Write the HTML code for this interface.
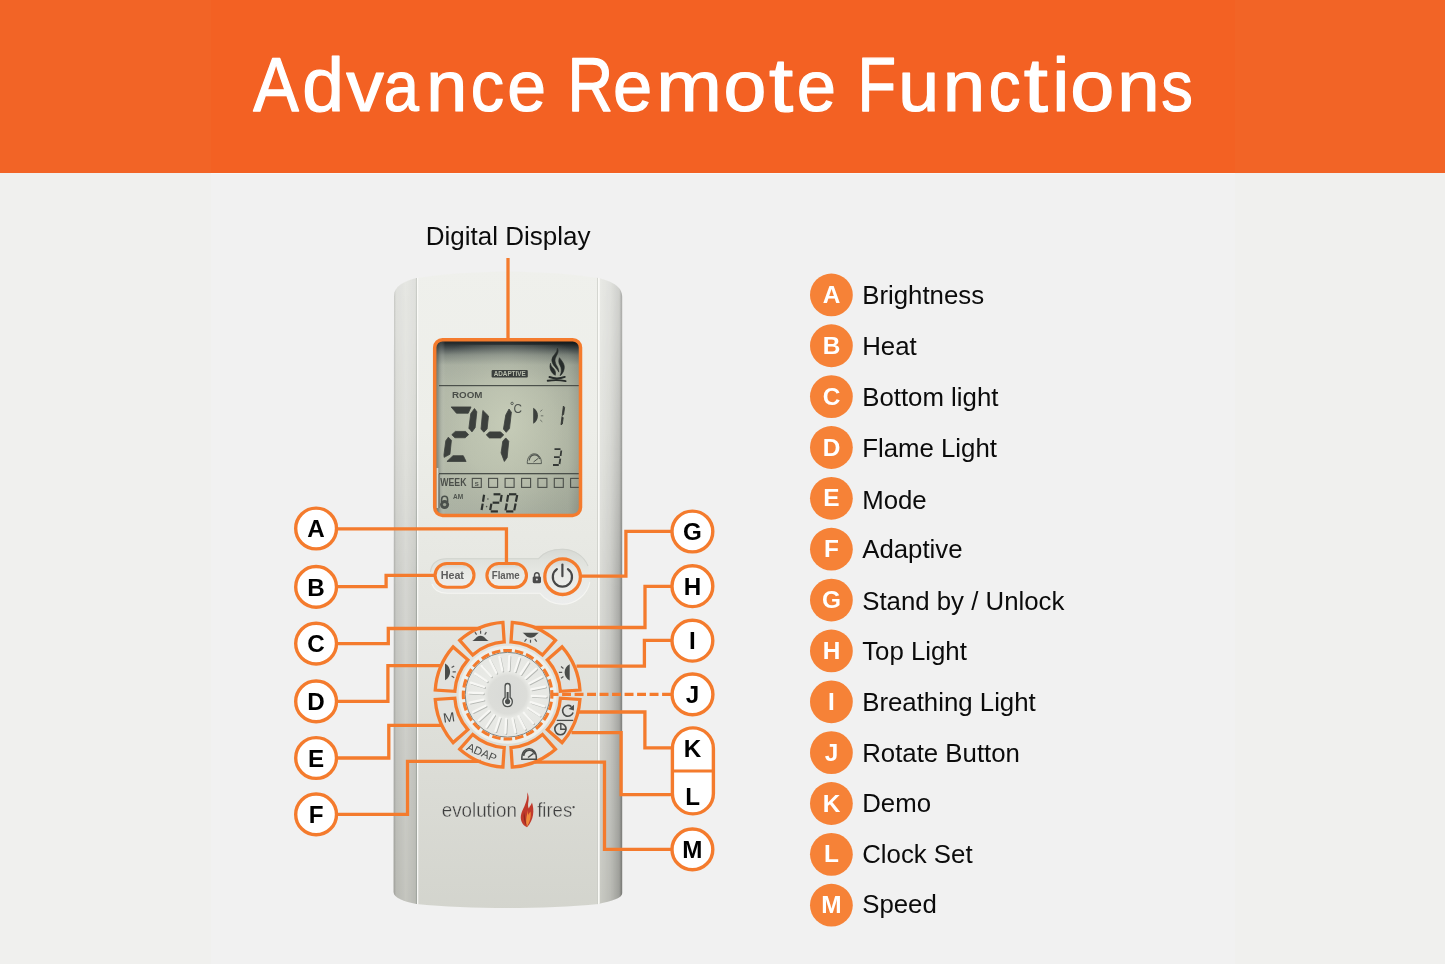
<!DOCTYPE html>
<html><head><meta charset="utf-8"><title>Advance Remote Functions</title>
<style>
html,body{margin:0;padding:0;}
body{width:1445px;height:964px;overflow:hidden;background:#f1f1f1;font-family:"Liberation Sans",sans-serif;position:relative;}
.hdr{position:absolute;left:0;top:0;width:1445px;height:173px;background:#F36123;border-bottom:1.4px solid #f5f8f8;}
.sideL{position:absolute;left:0;top:0;width:211px;height:964px;background:linear-gradient(#F26426 0,#F26426 172.6px,#f0f0ee 172.6px);}
.sideR{position:absolute;left:1235px;top:0;width:210px;height:964px;background:linear-gradient(#F26426 0,#F26426 172.6px,#f0f0ee 172.6px);}
svg{position:absolute;left:0;top:0;will-change:transform;}
svg text{font-family:"Liberation Sans",sans-serif;}
</style></head><body>
<div class="hdr"></div><div class="sideL"></div><div class="sideR"></div>
<svg width="1445" height="964" viewBox="0 0 1445 964">
<g font-size="79" fill="#fff" stroke="#fff" stroke-width="1.3" stroke-linejoin="round">
<text transform="translate(253.27 110.9) scale(0.865 0.972)">A</text>
<text transform="translate(302.24 110.9) scale(0.951 0.96)">d</text>
<text transform="translate(346.14 110.9) scale(0.952 0.915)">v</text>
<text transform="translate(383.83 110.9) scale(0.800 0.915)">a</text>
<text transform="translate(426.31 110.9) scale(0.933 0.915)">n</text>
<text transform="translate(470.87 110.9) scale(0.843 0.915)">c</text>
<text transform="translate(507.24 110.9) scale(0.882 0.915)">e</text>
<text transform="translate(567.60 110.9) scale(0.800 0.972)">R</text>
<text transform="translate(613.00 110.9) scale(0.893 0.915)">e</text>
<text transform="translate(656.17 110.9) scale(0.997 0.915)">m</text>
<text transform="translate(723.46 110.9) scale(0.976 0.915)">o</text>
<text transform="translate(769.04 110.9) scale(1.100 0.96)">t</text>
<text transform="translate(796.80 110.9) scale(0.893 0.915)">e</text>
<text transform="translate(857.42 110.9) scale(0.800 0.972)">F</text>
<text transform="translate(898.13 110.9) scale(0.930 0.915)">u</text>
<text transform="translate(942.74 110.9) scale(0.965 0.915)">n</text>
<text transform="translate(988.70 110.9) scale(0.804 0.915)">c</text>
<text transform="translate(1023.84 110.9) scale(1.100 0.96)">t</text>
<text transform="translate(1052.22 110.9) scale(0.979 0.96)">i</text>
<text transform="translate(1070.27 110.9) scale(1.003 0.915)">o</text>
<text transform="translate(1117.14 110.9) scale(0.965 0.915)">n</text>
<text transform="translate(1161.21 110.9) scale(0.800 0.915)">s</text>
</g>
<defs>
<linearGradient id="gBody" x1="0" y1="0" x2="0" y2="1">
 <stop offset="0" stop-color="#eff0ec"/><stop offset="0.25" stop-color="#edeee9"/><stop offset="0.55" stop-color="#e4e5e0"/><stop offset="1" stop-color="#d3d4cd"/>
</linearGradient>
<linearGradient id="gSideL" x1="0" y1="0" x2="1" y2="0">
 <stop offset="0" stop-color="#000" stop-opacity="0.20"/><stop offset="0.12" stop-color="#000" stop-opacity="0.13"/><stop offset="0.55" stop-color="#000" stop-opacity="0.07"/><stop offset="1" stop-color="#000" stop-opacity="0.13"/>
</linearGradient>
<linearGradient id="gSideR" x1="0" y1="0" x2="1" y2="0">
 <stop offset="0" stop-color="#000" stop-opacity="0.04"/><stop offset="0.5" stop-color="#000" stop-opacity="0.12"/><stop offset="0.85" stop-color="#000" stop-opacity="0.25"/><stop offset="1" stop-color="#000" stop-opacity="0.36"/>
</linearGradient>
<linearGradient id="gLcd" x1="0" y1="0" x2="0" y2="1">
 <stop offset="0" stop-color="#0d1113"/><stop offset="0.03" stop-color="#1b2123"/><stop offset="0.055" stop-color="#3d4546"/><stop offset="0.095" stop-color="#7a827a"/><stop offset="0.15" stop-color="#a4ab9c"/><stop offset="0.3" stop-color="#b1b7a6"/><stop offset="0.7" stop-color="#b2b8a6"/><stop offset="1" stop-color="#a5ac9d"/>
</linearGradient>
<linearGradient id="gLcdX" x1="0" y1="0" x2="1" y2="0">
 <stop offset="0" stop-color="#2a3032" stop-opacity="0.75"/><stop offset="0.035" stop-color="#555d59" stop-opacity="0.45"/><stop offset="0.08" stop-color="#fff" stop-opacity="0.05"/><stop offset="0.5" stop-color="#fff" stop-opacity="0.06"/><stop offset="0.9" stop-color="#000" stop-opacity="0.04"/><stop offset="1" stop-color="#000" stop-opacity="0.18"/>
</linearGradient>
<radialGradient id="gKnob" cx="0.5" cy="0.5" r="0.5">
 <stop offset="0" stop-color="#d9dad7"/><stop offset="0.45" stop-color="#dcddd9"/><stop offset="0.55" stop-color="#e9eae6"/><stop offset="1" stop-color="#e6e7e3"/>
</radialGradient>
<linearGradient id="gEdgeL" x1="0" y1="0" x2="1" y2="0"><stop offset="0" stop-color="#000" stop-opacity="0.12"/><stop offset="1" stop-color="#000" stop-opacity="0"/></linearGradient>
<linearGradient id="gEdgeR" x1="0" y1="0" x2="1" y2="0"><stop offset="0" stop-color="#000" stop-opacity="0"/><stop offset="1" stop-color="#000" stop-opacity="0.16"/></linearGradient>
<linearGradient id="gRecess" x1="0" y1="0" x2="0" y2="1"><stop offset="0" stop-color="#d6d8d3"/><stop offset="0.22" stop-color="#e0e2dd"/><stop offset="0.5" stop-color="#e8e9e5"/><stop offset="1" stop-color="#eceded"/></linearGradient>
<linearGradient id="gBtn" x1="0" y1="0" x2="0" y2="1"><stop offset="0" stop-color="#cfd1cd"/><stop offset="0.25" stop-color="#e6e7e3"/><stop offset="1" stop-color="#efefec"/></linearGradient>
<clipPath id="cBody"><path id="pBody" d="M394 296 C394 286 404 281 416.5 278 C470 269.5 545 269.5 598.5 278 C611 281 622.3 286 622.3 297 L622.3 893 C622.3 898 612 901 598.5 904 C545 909.3 470 909.3 416.5 904 C404 901.5 393.6 898 393.6 892 Z"/></clipPath>
<linearGradient id="gFade" x1="0" y1="0" x2="0" y2="1">
 <stop offset="0" stop-color="#fff" stop-opacity="0.5"/><stop offset="0.1" stop-color="#fff" stop-opacity="0.55"/><stop offset="0.35" stop-color="#fff" stop-opacity="0.8"/><stop offset="0.5" stop-color="#fff" stop-opacity="1"/><stop offset="1" stop-color="#fff" stop-opacity="1"/>
</linearGradient>
<mask id="mFade" maskUnits="userSpaceOnUse" x="380" y="260" width="260" height="660"><rect x="380" y="265" width="260" height="650" fill="url(#gFade)"/></mask>
<radialGradient id="gGlare" cx="0.52" cy="0.5" r="0.62" fx="0.5" fy="0.45">
 <stop offset="0" stop-color="#c9cfba" stop-opacity="0.85"/><stop offset="0.5" stop-color="#c0c6b2" stop-opacity="0.5"/><stop offset="1" stop-color="#a3aa9b" stop-opacity="0"/>
</radialGradient>
<clipPath id="cLcd"><rect x="434.7" y="339.8" width="145.8" height="175.6" rx="7.5"/></clipPath>
</defs>
<g clip-path="url(#cBody)">
<rect x="390" y="265" width="240" height="650" fill="url(#gBody)"/>
<g mask="url(#mFade)">
<rect x="393" y="265" width="23.5" height="650" fill="url(#gSideL)"/>
<rect x="598.5" y="265" width="24" height="650" fill="url(#gSideR)"/>
<rect x="415.9" y="265" width="1.1" height="650" fill="#999d97" opacity="0.8"/>
</g>
<rect x="393" y="265" width="3.2" height="650" fill="url(#gEdgeL)"/>
<rect x="619.2" y="265" width="3.3" height="650" fill="url(#gEdgeR)"/>
<rect x="417" y="265" width="1.3" height="650" fill="#fbfbf8" opacity="0.9"/>
<rect x="598" y="265" width="1.7" height="650" fill="#fbfbf8" opacity="0.95"/>
<rect x="597" y="265" width="1" height="650" fill="#c9cbc5" opacity="0.7"/>
</g>
<g><path d="M447 558.3 H538 C544 551.5 553 548.8 562.6 548.8 C578 548.8 590.4 561.3 590.4 576.7 C590.4 592 578 604.6 562.6 604.6 C553 604.6 545 600 540 593.5 H447 C424 593.5 424 558.3 447 558.3 Z" fill="url(#gRecess)"/>
<path d="M430.5 572 C431.5 563 438 558.8 447 558.8 H538.4 C544 552 553 549.3 562.6 549.3 C574 549.3 584 556 588 566" fill="none" stroke="#cfd1cc" stroke-width="1.1" opacity="0.9"/>
<path d="M432 584 C434 590.5 440 593.2 447 593.2 H540 C545 600 553 604.2 562.6 604.2 C576 604.2 587.5 594.5 589.8 582" fill="none" stroke="#f6f6f3" stroke-width="1.1" opacity="0.9"/></g>
<g clip-path="url(#cLcd)">
<rect x="433" y="338" width="150" height="180" fill="url(#gLcd)"/>
<rect x="433" y="338" width="150" height="180" fill="url(#gLcdX)"/>
<rect x="433" y="345" width="150" height="173" fill="url(#gGlare)"/>
<rect x="439" y="385" width="142" height="1.2" fill="#4b504b"/>
<rect x="439" y="473" width="142" height="1.3" fill="#4b504b"/>
<rect x="491.6" y="370" width="36.2" height="7.4" rx="1" fill="#3b403d"/>
<text x="509.7" y="376.3" font-size="6.6" font-weight="700" fill="#b9bfae" text-anchor="middle" textLength="32" lengthAdjust="spacingAndGlyphs">ADAPTIVE</text>
<text x="452" y="398.3" font-size="9.8" font-weight="700" fill="#4a4e49" textLength="30.5" lengthAdjust="spacingAndGlyphs">ROOM</text>
<polygon points="451.14,406.95 471.03,406.95 468.23,413.21 456.46,413.21" fill="#3c403d" stroke="#3c403d" stroke-width="0.8" stroke-linejoin="round"/>
<polygon points="474.48,408.54 476.82,411.81 475.14,427.68 471.96,431.88 468.88,428.15 470.75,413.67" fill="#3c403d" stroke="#3c403d" stroke-width="0.8" stroke-linejoin="round"/>
<polygon points="451.79,434.68 455.34,431.41 465.61,431.41 468.6,434.68 465.15,437.76 454.88,437.76" fill="#3c403d" stroke="#3c403d" stroke-width="0.8" stroke-linejoin="round"/>
<polygon points="448.34,437.2 451.42,440.28 449.93,454.29 444.14,457.37 443.95,454.76 445.82,440.75" fill="#3c403d" stroke="#3c403d" stroke-width="0.8" stroke-linejoin="round"/>
<polygon points="446.94,461.48 453.01,455.69 463.28,455.69 466.08,461.48" fill="#3c403d" stroke="#3c403d" stroke-width="0.8" stroke-linejoin="round"/>
<polygon points="482.89,410.41 488.49,416.01 487.09,429.08 483.82,432.16 481.02,429.08 482.42,413.67" fill="#3c403d" stroke="#3c403d" stroke-width="0.8" stroke-linejoin="round"/>
<polygon points="509.03,409.01 511.37,412.27 509.5,428.61 506.23,432.35 503.43,429.08 505.76,415.07" fill="#3c403d" stroke="#3c403d" stroke-width="0.8" stroke-linejoin="round"/>
<polygon points="486.34,434.96 489.42,431.88 500.63,431.88 503.71,434.96 500.63,437.95 489.42,437.95" fill="#3c403d" stroke="#3c403d" stroke-width="0.8" stroke-linejoin="round"/>
<polygon points="505.76,437.95 508.75,441.22 507.16,457.56 504.36,461.48 501.09,452.89 502.77,441.22" fill="#3c403d" stroke="#3c403d" stroke-width="0.8" stroke-linejoin="round"/>
<circle cx="512.1" cy="403.4" r="1.2" fill="none" stroke="#4d524d" stroke-width="0.9"/>
<text x="513.6" y="413" font-size="13.5" fill="#4d524d" textLength="8.5" lengthAdjust="spacingAndGlyphs">C</text>
<path d="M533.2 407.8 C539.5 411 539.5 420.5 533.2 423.8 Z" fill="#3c403d"/>
<path d="M540.2 411.5 L542.3 409.8 M540.8 415.8 L543.3 415.8 M540.2 420 L542.3 421.8" stroke="#5a5f59" stroke-width="0.8" fill="none"/>
<path d="M563.4 406 L564.6 407.5 L563.6 414.5 L562.2 415.5 Z M562 416.6 L563.2 417.8 L562.3 424 L561 424.8 Z" fill="#353936" stroke="#353936" stroke-width="0.9" stroke-linejoin="round"/>
<path d="M527.3 463.6 C526.6 450.5 542 450.5 541.4 463.6 Z" fill="none" stroke="#4d524d" stroke-width="0.9"/>
<path d="M529.2 460.5 C530 453.5 538 453 539.6 459" fill="none" stroke="#4d524d" stroke-width="1.1"/>
<path d="M533.5 462 L538.3 458.3" stroke="#4d524d" stroke-width="1"/>
<path d="M554.5 449.2 H560.5 M561.3 450.5 L560.6 456 M554 457.2 H559.8 M560.3 458.6 L559.5 464 M553 465 H558.8" stroke="#353936" stroke-width="1.8" fill="none"/>
<text x="440.3" y="486.3" font-size="10" font-weight="700" fill="#4a4e49" textLength="26.2" lengthAdjust="spacingAndGlyphs">WEEK</text>
<rect x="472.3" y="478.4" width="9" height="9" fill="none" stroke="#4a4e49" stroke-width="1.1"/>
<rect x="488.6" y="478.4" width="9" height="9" fill="none" stroke="#4a4e49" stroke-width="1.1"/>
<rect x="505.1" y="478.4" width="9" height="9" fill="none" stroke="#4a4e49" stroke-width="1.1"/>
<rect x="521.6" y="478.4" width="9" height="9" fill="none" stroke="#4a4e49" stroke-width="1.1"/>
<rect x="537.9" y="478.4" width="9" height="9" fill="none" stroke="#4a4e49" stroke-width="1.1"/>
<rect x="554.3000000000001" y="478.4" width="9" height="9" fill="none" stroke="#4a4e49" stroke-width="1.1"/>
<rect x="570.6" y="478.4" width="9" height="9" fill="none" stroke="#4a4e49" stroke-width="1.1"/>
<text x="476.8" y="485.6" font-size="6" font-weight="700" fill="#4a4e49" text-anchor="middle">S</text>
<text x="453" y="499.4" font-size="7.8" font-weight="700" fill="#50554f" textLength="10.2" lengthAdjust="spacingAndGlyphs">AM</text>
<rect x="436.4" y="468" width="1.9" height="40" fill="#eef2ee" opacity="0.75"/>
<rect x="438.3" y="474" width="1.6" height="34" fill="#4e5553" opacity="0.45"/>
<path d="M441.6 502 V499.5 C441.6 495.2 447.6 495.2 447.6 499.5 V502" fill="none" stroke="#4a504b" stroke-width="1.5"/>
<circle cx="444.6" cy="504.6" r="4.5" fill="#4a504b"/>
<circle cx="444.6" cy="504.6" r="1.7" fill="#9aa193"/>
<path d="M484.08 494.78 L482.96 501.76" stroke="#2e322f" stroke-width="2.2" fill="none" stroke-linecap="butt"/>
<path d="M482.71 503.63 L481.59 509.98" stroke="#2e322f" stroke-width="2.2" fill="none" stroke-linecap="butt"/>
<circle cx="487.9" cy="499" r="0.8" fill="#4a4e49"/><circle cx="486.6" cy="506.6" r="0.8" fill="#4a4e49"/>
<path d="M493.55 494.28 L500.4 494.28" stroke="#2e322f" stroke-width="2.2" fill="none" stroke-linecap="butt"/>
<path d="M501.65 494.91 L500.53 501.76" stroke="#2e322f" stroke-width="2.2" fill="none" stroke-linecap="butt"/>
<path d="M492.62 502.69 L499.28 502.69" stroke="#2e322f" stroke-width="2.2" fill="none" stroke-linecap="butt"/>
<path d="M491.37 503.63 L490.19 510.17" stroke="#2e322f" stroke-width="2.2" fill="none" stroke-linecap="butt"/>
<path d="M490.75 511.42 L497.91 511.42" stroke="#2e322f" stroke-width="2.2" fill="none" stroke-linecap="butt"/>
<path d="M509 494.28 L516.29 494.28" stroke="#2e322f" stroke-width="2.2" fill="none" stroke-linecap="butt"/>
<path d="M517.23 494.91 L515.86 501.76" stroke="#2e322f" stroke-width="2.2" fill="none" stroke-linecap="butt"/>
<path d="M515.61 503.5 L514.24 510.36" stroke="#2e322f" stroke-width="2.2" fill="none" stroke-linecap="butt"/>
<path d="M506.14 511.42 L513.36 511.42" stroke="#2e322f" stroke-width="2.2" fill="none" stroke-linecap="butt"/>
<path d="M506.76 503.5 L505.51 510.36" stroke="#2e322f" stroke-width="2.2" fill="none" stroke-linecap="butt"/>
<path d="M508.19 494.91 L507.01 501.76" stroke="#2e322f" stroke-width="2.2" fill="none" stroke-linecap="butt"/>
<path d="M 557.43 348.23 C 560.17 353.45 553.7 356.94 555.19 361.92 C 556.04 365.9 559.17 367.9 558.82 372.13 C 556.93 367.9 551.85 365.41 551.85 359.93 C 551.85 355.45 557.53 353.45 557.43 348.23 Z" fill="#272c2a" stroke="#272c2a" stroke-width="0.6" stroke-linejoin="round"/>
<path d="M 550.56 363.17 C 548.72 367.9 551.21 373.13 555.34 375.27 C 556.04 371.88 554.94 369.89 553.05 367.9 C 551.35 366.4 550.71 364.91 550.56 363.17 Z" fill="#272c2a" stroke="#272c2a" stroke-width="0.6" stroke-linejoin="round"/>
<path d="M 559.42 357.69 C 561.91 360.92 565.15 364.41 564.15 368.89 C 563.61 371.88 562.01 374.47 560.02 375.67 C 561.91 371.88 561.51 367.9 560.02 365.41 C 558.53 362.92 558.43 360.43 559.42 357.69 Z" fill="#272c2a" stroke="#272c2a" stroke-width="0.6" stroke-linejoin="round"/>
<path d="M 549.46 377.01 Q 557.18 379.85 564.8 376.86 M 547.72 380.75 Q 557.18 379.35 565.65 381.09" stroke="#272c2a" stroke-width="1.9" fill="none" stroke-linecap="round"/>
</g>
<rect x="434.7" y="339.8" width="145.8" height="175.6" rx="7.8" fill="none" stroke="#F47B2D" stroke-width="3.5"/>
<rect x="435.1" y="563.5" width="38.9" height="23.7" rx="11.85" fill="url(#gBtn)" stroke="#F47B2D" stroke-width="3.1"/>
<rect x="486.9" y="563.5" width="39.6" height="23.9" rx="11.95" fill="url(#gBtn)" stroke="#F47B2D" stroke-width="3.1"/>
<text x="452.3" y="578.9" font-size="10.6" font-weight="700" fill="#5c5c5c" text-anchor="middle" textLength="23.3" lengthAdjust="spacingAndGlyphs">Heat</text>
<text x="505.7" y="579.1" font-size="10.6" font-weight="700" fill="#5c5c5c" text-anchor="middle" textLength="27.9" lengthAdjust="spacingAndGlyphs">Flame</text>
<path d="M534.5 577 V575.6 C534.5 571.8 539.2 571.8 539.2 575.6 V577" fill="none" stroke="#4b4b4b" stroke-width="1.4"/>
<rect x="532.7" y="576.4" width="8.3" height="6.8" rx="1.4" fill="#4b4b4b"/>
<circle cx="536.85" cy="579.6" r="1" fill="#ddd"/>
<circle cx="562.6" cy="576.7" r="17.8" fill="url(#gBtn)" stroke="#F47B2D" stroke-width="3.3"/>
<path d="M556.9 569.2 A9.6 9.6 0 1 0 567.9 569.2" fill="none" stroke="#484848" stroke-width="2.2" stroke-linecap="round"/>
<path d="M562.4 564.6 V576.2" stroke="#484848" stroke-width="2.2" stroke-linecap="round"/>
<circle cx="507.6" cy="694.75" r="49" fill="#eeefeb"/>
<path d="M512.28 622.4 A72.5 72.5 0 0 1 555.45 640.28 L542.51 655.01 A52.9 52.9 0 0 0 511.01 641.96 Z" fill="#e1e2de" stroke="#F47B2D" stroke-width="3.3" stroke-linejoin="miter"/>
<path d="M562.07 646.9 A72.5 72.5 0 0 1 579.95 690.07 L560.39 691.34 A52.9 52.9 0 0 0 547.34 659.84 Z" fill="#e1e2de" stroke="#F47B2D" stroke-width="3.3" stroke-linejoin="miter"/>
<path d="M579.95 699.43 A72.5 72.5 0 0 1 562.07 742.6 L547.34 729.66 A52.9 52.9 0 0 0 560.39 698.16 Z" fill="#e1e2de" stroke="#F47B2D" stroke-width="3.3" stroke-linejoin="miter"/>
<path d="M555.45 749.22 A72.5 72.5 0 0 1 512.28 767.1 L511.01 747.54 A52.9 52.9 0 0 0 542.51 734.49 Z" fill="#e1e2de" stroke="#F47B2D" stroke-width="3.3" stroke-linejoin="miter"/>
<path d="M502.92 767.1 A72.5 72.5 0 0 1 459.75 749.22 L472.69 734.49 A52.9 52.9 0 0 0 504.19 747.54 Z" fill="#e1e2de" stroke="#F47B2D" stroke-width="3.3" stroke-linejoin="miter"/>
<path d="M453.13 742.6 A72.5 72.5 0 0 1 435.25 699.43 L454.81 698.16 A52.9 52.9 0 0 0 467.86 729.66 Z" fill="#e1e2de" stroke="#F47B2D" stroke-width="3.3" stroke-linejoin="miter"/>
<path d="M435.25 690.07 A72.5 72.5 0 0 1 453.13 646.9 L467.86 659.84 A52.9 52.9 0 0 0 454.81 691.34 Z" fill="#e1e2de" stroke="#F47B2D" stroke-width="3.3" stroke-linejoin="miter"/>
<path d="M459.75 640.28 A72.5 72.5 0 0 1 502.92 622.4 L504.19 641.96 A52.9 52.9 0 0 0 472.69 655.01 Z" fill="#e1e2de" stroke="#F47B2D" stroke-width="3.3" stroke-linejoin="miter"/>
<circle cx="507.6" cy="694.75" r="42.4" fill="url(#gKnob)" stroke="#7f8583" stroke-width="1"/>
<path d="M509.63 671.03 L510.36 657.05" stroke="#a9aca8" stroke-width="1.9" stroke-linecap="round" opacity="0.8"/>
<path d="M508.68 670.08 L509.41 656.1" stroke="#f7f7f4" stroke-width="2.3" stroke-linecap="round"/>
<path d="M515.92 672.2 L520.25 658.88" stroke="#a9aca8" stroke-width="1.9" stroke-linecap="round" opacity="0.8"/>
<path d="M514.97 671.25 L519.3 657.93" stroke="#f7f7f4" stroke-width="2.3" stroke-linecap="round"/>
<path d="M521.69 674.95 L529.32 663.21" stroke="#a9aca8" stroke-width="1.9" stroke-linecap="round" opacity="0.8"/>
<path d="M520.74 674 L528.37 662.26" stroke="#f7f7f4" stroke-width="2.3" stroke-linecap="round"/>
<path d="M526.56 679.11 L536.96 669.74" stroke="#a9aca8" stroke-width="1.9" stroke-linecap="round" opacity="0.8"/>
<path d="M525.61 678.16 L536.01 668.79" stroke="#f7f7f4" stroke-width="2.3" stroke-linecap="round"/>
<path d="M530.18 684.38 L542.65 678.02" stroke="#a9aca8" stroke-width="1.9" stroke-linecap="round" opacity="0.8"/>
<path d="M529.23 683.43 L541.7 677.07" stroke="#f7f7f4" stroke-width="2.3" stroke-linecap="round"/>
<path d="M532.31 690.41 L546.01 687.5" stroke="#a9aca8" stroke-width="1.9" stroke-linecap="round" opacity="0.8"/>
<path d="M531.36 689.46 L545.06 686.55" stroke="#f7f7f4" stroke-width="2.3" stroke-linecap="round"/>
<path d="M532.82 696.78 L546.8 697.51" stroke="#a9aca8" stroke-width="1.9" stroke-linecap="round" opacity="0.8"/>
<path d="M531.87 695.83 L545.85 696.56" stroke="#f7f7f4" stroke-width="2.3" stroke-linecap="round"/>
<path d="M531.65 703.07 L544.97 707.4" stroke="#a9aca8" stroke-width="1.9" stroke-linecap="round" opacity="0.8"/>
<path d="M530.7 702.12 L544.02 706.45" stroke="#f7f7f4" stroke-width="2.3" stroke-linecap="round"/>
<path d="M528.9 708.84 L540.64 716.47" stroke="#a9aca8" stroke-width="1.9" stroke-linecap="round" opacity="0.8"/>
<path d="M527.95 707.89 L539.69 715.52" stroke="#f7f7f4" stroke-width="2.3" stroke-linecap="round"/>
<path d="M524.74 713.71 L534.11 724.11" stroke="#a9aca8" stroke-width="1.9" stroke-linecap="round" opacity="0.8"/>
<path d="M523.79 712.76 L533.16 723.16" stroke="#f7f7f4" stroke-width="2.3" stroke-linecap="round"/>
<path d="M519.47 717.33 L525.83 729.8" stroke="#a9aca8" stroke-width="1.9" stroke-linecap="round" opacity="0.8"/>
<path d="M518.52 716.38 L524.88 728.85" stroke="#f7f7f4" stroke-width="2.3" stroke-linecap="round"/>
<path d="M513.44 719.46 L516.35 733.16" stroke="#a9aca8" stroke-width="1.9" stroke-linecap="round" opacity="0.8"/>
<path d="M512.49 718.51 L515.4 732.21" stroke="#f7f7f4" stroke-width="2.3" stroke-linecap="round"/>
<path d="M507.07 719.97 L506.34 733.95" stroke="#a9aca8" stroke-width="1.9" stroke-linecap="round" opacity="0.8"/>
<path d="M506.12 719.02 L505.39 733" stroke="#f7f7f4" stroke-width="2.3" stroke-linecap="round"/>
<path d="M500.78 718.8 L496.45 732.12" stroke="#a9aca8" stroke-width="1.9" stroke-linecap="round" opacity="0.8"/>
<path d="M499.83 717.85 L495.5 731.17" stroke="#f7f7f4" stroke-width="2.3" stroke-linecap="round"/>
<path d="M495.01 716.05 L487.38 727.79" stroke="#a9aca8" stroke-width="1.9" stroke-linecap="round" opacity="0.8"/>
<path d="M494.06 715.1 L486.43 726.84" stroke="#f7f7f4" stroke-width="2.3" stroke-linecap="round"/>
<path d="M490.14 711.89 L479.74 721.26" stroke="#a9aca8" stroke-width="1.9" stroke-linecap="round" opacity="0.8"/>
<path d="M489.19 710.94 L478.79 720.31" stroke="#f7f7f4" stroke-width="2.3" stroke-linecap="round"/>
<path d="M486.52 706.62 L474.05 712.98" stroke="#a9aca8" stroke-width="1.9" stroke-linecap="round" opacity="0.8"/>
<path d="M485.57 705.67 L473.1 712.03" stroke="#f7f7f4" stroke-width="2.3" stroke-linecap="round"/>
<path d="M484.39 700.59 L470.69 703.5" stroke="#a9aca8" stroke-width="1.9" stroke-linecap="round" opacity="0.8"/>
<path d="M483.44 699.64 L469.74 702.55" stroke="#f7f7f4" stroke-width="2.3" stroke-linecap="round"/>
<path d="M483.88 694.22 L469.9 693.49" stroke="#a9aca8" stroke-width="1.9" stroke-linecap="round" opacity="0.8"/>
<path d="M482.93 693.27 L468.95 692.54" stroke="#f7f7f4" stroke-width="2.3" stroke-linecap="round"/>
<path d="M485.05 687.93 L471.73 683.6" stroke="#a9aca8" stroke-width="1.9" stroke-linecap="round" opacity="0.8"/>
<path d="M484.1 686.98 L470.78 682.65" stroke="#f7f7f4" stroke-width="2.3" stroke-linecap="round"/>
<path d="M487.8 682.16 L476.06 674.53" stroke="#a9aca8" stroke-width="1.9" stroke-linecap="round" opacity="0.8"/>
<path d="M486.85 681.21 L475.11 673.58" stroke="#f7f7f4" stroke-width="2.3" stroke-linecap="round"/>
<path d="M491.96 677.29 L482.59 666.89" stroke="#a9aca8" stroke-width="1.9" stroke-linecap="round" opacity="0.8"/>
<path d="M491.01 676.34 L481.64 665.94" stroke="#f7f7f4" stroke-width="2.3" stroke-linecap="round"/>
<path d="M497.23 673.67 L490.87 661.2" stroke="#a9aca8" stroke-width="1.9" stroke-linecap="round" opacity="0.8"/>
<path d="M496.28 672.72 L489.92 660.25" stroke="#f7f7f4" stroke-width="2.3" stroke-linecap="round"/>
<path d="M503.26 671.54 L500.35 657.84" stroke="#a9aca8" stroke-width="1.9" stroke-linecap="round" opacity="0.8"/>
<path d="M502.31 670.59 L499.4 656.89" stroke="#f7f7f4" stroke-width="2.3" stroke-linecap="round"/>
<circle cx="507.6" cy="694.75" r="44.3" fill="none" stroke="#F47B2D" stroke-width="3.1" stroke-dasharray="8.5 3.1" transform="rotate(-6 507.6 694.75)"/>
<path d="M505.1 686.3 C505.1 682.6 510.1 682.6 510.1 686.3 V697.6 C513.6 699.8 513 706.6 507.6 706.6 C502.2 706.6 501.6 699.8 505.1 697.6 Z" fill="#e8e9e5" stroke="#4c4f4d" stroke-width="1.3"/>
<circle cx="507.6" cy="701.6" r="2.6" fill="#4c4f4d"/><path d="M507.6 692 V701" stroke="#4c4f4d" stroke-width="2"/>
<path d="M472.2 640.9 C475 640.3 476 636 480.5 635.8 C485 636 486 640.3 488.8 640.9 Z" fill="#4a4c4a"/>
<path d="M474.9 632.1 L476.6 634.7 M480.6 630.7 V633.7 M486.4 632.1 L484.7 634.7" stroke="#555" stroke-width="1.2" fill="none"/>
<path d="M522.5 632.7 H539 C536.5 633.6 535.5 637.6 530.7 637.8 C526 637.6 525 633.6 522.5 632.7 Z" fill="#4a4c4a"/>
<path d="M526.5 638.8 L524.5 641.6 M530.5 639.8 V642.7 M534.7 638.8 L536.7 641.6" stroke="#555" stroke-width="1.2" fill="none"/>
<path d="M445 663.4 C451.8 667 451.8 676.5 445 680.2 Z" fill="#4a4c4a"/>
<path d="M451.6 667.6 L454.2 665.9 M452.6 671.8 H455.8 M451.6 676 L454.2 677.7" stroke="#555" stroke-width="1.2" fill="none"/>
<path d="M569.7 664.2 C562.9 667.8 562.9 677 569.7 680.6 Z" fill="#4a4c4a"/>
<path d="M563.4 668.4 L561 666.6 M562.2 672.3 H558.9 M563.4 676.5 L561 678.2" stroke="#555" stroke-width="1.2" fill="none"/>
<text transform="translate(449 717.3) rotate(-8)" font-size="13.4" fill="#4a4c4a" text-anchor="middle" y="4.6" textLength="11.8" lengthAdjust="spacingAndGlyphs">M</text>
<text transform="translate(481.8 752.3) rotate(23.5)" font-size="11.2" fill="#4a4c4a" text-anchor="middle" y="4" textLength="31.6" lengthAdjust="spacingAndGlyphs">ADAP</text>
<path d="M521.8 759.3 C521 745 537.2 745 536.4 759.3 Z" fill="none" stroke="#4a4c4a" stroke-width="1.4"/>
<path d="M523.6 755.8 C524.6 748.6 533 748.2 534.6 754.4" fill="none" stroke="#4a4c4a" stroke-width="1.7"/>
<path d="M528 757.5 L533.2 753.6" stroke="#4a4c4a" stroke-width="1.4"/>
<path d="M571.4 706.6 A5.4 5.4 0 1 0 573.1 712.6" fill="none" stroke="#4a4c4a" stroke-width="1.6"/>
<path d="M568.6 708.9 L574 704.8 L573.9 710.6 Z" fill="#4a4c4a"/>
<path d="M556.7 720.4 H573.2" stroke="#4a4c4a" stroke-width="1.3"/>
<circle cx="560.4" cy="729.1" r="5.6" fill="none" stroke="#4a4c4a" stroke-width="1.6"/>
<path d="M560.8 723.6 V729.3 H566.2" fill="none" stroke="#4a4c4a" stroke-width="1.4"/>
<text x="441.7" y="817.3" font-size="19.6" fill="#3e3e3e" textLength="75.2" lengthAdjust="spacingAndGlyphs" stroke="#e0e1dc" stroke-width="0.3">evolution</text>
<text x="537.2" y="817.3" font-size="19.6" fill="#3e3e3e" textLength="35" lengthAdjust="spacingAndGlyphs" stroke="#e0e1dc" stroke-width="0.3">fires</text>
<circle cx="573.6" cy="807.2" r="1.1" fill="#4a4a4a"/>
<path d="M527.2 792.3 C530.8 799 526.5 804 528.8 808.5 C530 805.5 531.5 804.5 532 802.5 C534.5 810 534 820 527 827.2 C522.5 825.5 519.2 819.5 521.5 813 C523.5 807.5 528.2 800.5 527.2 792.3 Z" fill="#c0392b"/>
<path d="M527.5 806 C529.5 812 524.5 816 526.8 826.8 C529.5 823 531.5 817 530.5 811.5 C529.5 813 528.5 814 528.4 815.5 C527.5 812 528.4 809 527.5 806 Z" fill="#ef8a3c"/>
<path d="M524 812 C523 817 524 822 526.6 826 C525 821 525.5 816 524 812 Z" fill="#8e2a1f"/>
<path d="M508 258 V339" fill="none" stroke="#F47B2D" stroke-width="3.3" stroke-linejoin="miter"/>
<path d="M337 528.8 H506.45 V563" fill="none" stroke="#F47B2D" stroke-width="3.3" stroke-linejoin="miter"/>
<path d="M337 586.7 H386.1 V575.3 H434.5" fill="none" stroke="#F47B2D" stroke-width="3.3" stroke-linejoin="miter"/>
<path d="M337 643.7 H388.3 V628.5 H481" fill="none" stroke="#F47B2D" stroke-width="3.3" stroke-linejoin="miter"/>
<path d="M337 701.4 H387.9 V665.6 H442" fill="none" stroke="#F47B2D" stroke-width="3.3" stroke-linejoin="miter"/>
<path d="M337 758 H388.8 V725.3 H441" fill="none" stroke="#F47B2D" stroke-width="3.3" stroke-linejoin="miter"/>
<path d="M337 814.4 H407.5 V761.4 H481" fill="none" stroke="#F47B2D" stroke-width="3.3" stroke-linejoin="miter"/>
<path d="M671 531.4 H625.9 V576.2 H581" fill="none" stroke="#F47B2D" stroke-width="3.3" stroke-linejoin="miter"/>
<path d="M671 586.3 H645 V627.5 H534" fill="none" stroke="#F47B2D" stroke-width="3.3" stroke-linejoin="miter"/>
<path d="M671 640.4 H644.4 V666.2 H576.5" fill="none" stroke="#F47B2D" stroke-width="3.3" stroke-linejoin="miter"/>
<path d="M671 694.3 H550.6" fill="none" stroke="#F47B2D" stroke-width="3.3" stroke-linejoin="miter" stroke-dasharray="8.9 3.6"/>
<path d="M671 747.8 H644.9 V712 H579" fill="none" stroke="#F47B2D" stroke-width="3.3" stroke-linejoin="miter"/>
<path d="M671 794.6 H621.1 V732.6 H571.5" fill="none" stroke="#F47B2D" stroke-width="3.3" stroke-linejoin="miter"/>
<path d="M671 849.4 H604.5 V762.2 H535" fill="none" stroke="#F47B2D" stroke-width="3.3" stroke-linejoin="miter"/>
<circle cx="316.1" cy="528.5" r="20.4" fill="#fff" stroke="#F47B2D" stroke-width="3.4"/><text x="316.1" y="537.2" font-size="24.2" font-weight="700" fill="#000" text-anchor="middle">A</text>
<circle cx="316.1" cy="586.9" r="20.4" fill="#fff" stroke="#F47B2D" stroke-width="3.4"/><text x="316.1" y="595.6" font-size="24.2" font-weight="700" fill="#000" text-anchor="middle">B</text>
<circle cx="316.1" cy="643.6" r="20.4" fill="#fff" stroke="#F47B2D" stroke-width="3.4"/><text x="316.1" y="652.3000000000001" font-size="24.2" font-weight="700" fill="#000" text-anchor="middle">C</text>
<circle cx="316.1" cy="701.4" r="20.4" fill="#fff" stroke="#F47B2D" stroke-width="3.4"/><text x="316.1" y="710.1" font-size="24.2" font-weight="700" fill="#000" text-anchor="middle">D</text>
<circle cx="316.1" cy="758" r="20.4" fill="#fff" stroke="#F47B2D" stroke-width="3.4"/><text x="316.1" y="766.7" font-size="24.2" font-weight="700" fill="#000" text-anchor="middle">E</text>
<circle cx="316.1" cy="814.4" r="20.4" fill="#fff" stroke="#F47B2D" stroke-width="3.4"/><text x="316.1" y="823.1" font-size="24.2" font-weight="700" fill="#000" text-anchor="middle">F</text>
<circle cx="692.4" cy="531.5" r="20.4" fill="#fff" stroke="#F47B2D" stroke-width="3.4"/><text x="692.4" y="540.2" font-size="24.2" font-weight="700" fill="#000" text-anchor="middle">G</text>
<circle cx="692.4" cy="586.2" r="20.4" fill="#fff" stroke="#F47B2D" stroke-width="3.4"/><text x="692.4" y="594.9000000000001" font-size="24.2" font-weight="700" fill="#000" text-anchor="middle">H</text>
<circle cx="692.4" cy="640.7" r="20.4" fill="#fff" stroke="#F47B2D" stroke-width="3.4"/><text x="692.4" y="649.4000000000001" font-size="24.2" font-weight="700" fill="#000" text-anchor="middle">I</text>
<circle cx="692.5" cy="694.4" r="20.4" fill="#fff" stroke="#F47B2D" stroke-width="3.4"/><text x="692.5" y="703.1" font-size="24.2" font-weight="700" fill="#000" text-anchor="middle">J</text>
<circle cx="692.4" cy="849.4" r="20.4" fill="#fff" stroke="#F47B2D" stroke-width="3.4"/><text x="692.4" y="858.1" font-size="24.2" font-weight="700" fill="#000" text-anchor="middle">M</text>
<rect x="672.4" y="727.9" width="41" height="86" rx="20.5" fill="#fff" stroke="#F47B2D" stroke-width="3.4"/>
<path d="M672.4 771.1 H713.4" stroke="#F47B2D" stroke-width="3"/>
<text x="692.6" y="756.9" font-size="24.2" font-weight="700" fill="#000" text-anchor="middle">K</text>
<text x="692.6" y="804.7" font-size="24.2" font-weight="700" fill="#000" text-anchor="middle">L</text>
<text x="425.7" y="244.8" font-size="26" fill="#0b0b0b">Digital Display</text>
<circle cx="831.4" cy="294.9" r="21.4" fill="#F68237"/>
<text x="831.5" y="303" font-size="24.4" font-weight="700" fill="#fff" text-anchor="middle">A</text>
<text x="862.2" y="303.5" font-size="25.8" fill="#0b0b0b">Brightness</text>
<circle cx="831.4" cy="345.76" r="21.4" fill="#F68237"/>
<text x="831.5" y="353.86" font-size="24.4" font-weight="700" fill="#fff" text-anchor="middle">B</text>
<text x="862.2" y="354.7" font-size="25.8" fill="#0b0b0b">Heat</text>
<circle cx="831.4" cy="396.62" r="21.4" fill="#F68237"/>
<text x="831.5" y="404.72" font-size="24.4" font-weight="700" fill="#fff" text-anchor="middle">C</text>
<text x="862.2" y="405.9" font-size="25.8" fill="#0b0b0b">Bottom light</text>
<circle cx="831.4" cy="447.48" r="21.4" fill="#F68237"/>
<text x="831.5" y="455.58" font-size="24.4" font-weight="700" fill="#fff" text-anchor="middle">D</text>
<text x="862.2" y="457.4" font-size="25.8" fill="#0b0b0b">Flame Light</text>
<circle cx="831.4" cy="498.34" r="21.4" fill="#F68237"/>
<text x="831.5" y="506.44" font-size="24.4" font-weight="700" fill="#fff" text-anchor="middle">E</text>
<text x="862.2" y="508.5" font-size="25.8" fill="#0b0b0b">Mode</text>
<circle cx="831.4" cy="549.2" r="21.4" fill="#F68237"/>
<text x="831.5" y="557.3" font-size="24.4" font-weight="700" fill="#fff" text-anchor="middle">F</text>
<text x="862.2" y="558.2" font-size="25.8" fill="#0b0b0b">Adaptive</text>
<circle cx="831.4" cy="600.06" r="21.4" fill="#F68237"/>
<text x="831.5" y="608.16" font-size="24.4" font-weight="700" fill="#fff" text-anchor="middle">G</text>
<text x="862.2" y="610.4" font-size="25.8" fill="#0b0b0b">Stand by / Unlock</text>
<circle cx="831.4" cy="650.92" r="21.4" fill="#F68237"/>
<text x="831.5" y="659.02" font-size="24.4" font-weight="700" fill="#fff" text-anchor="middle">H</text>
<text x="862.2" y="659.7" font-size="25.8" fill="#0b0b0b">Top Light</text>
<circle cx="831.4" cy="701.78" r="21.4" fill="#F68237"/>
<text x="831.5" y="709.88" font-size="24.4" font-weight="700" fill="#fff" text-anchor="middle">I</text>
<text x="862.2" y="711.2" font-size="25.8" fill="#0b0b0b">Breathing Light</text>
<circle cx="831.4" cy="752.64" r="21.4" fill="#F68237"/>
<text x="831.5" y="760.74" font-size="24.4" font-weight="700" fill="#fff" text-anchor="middle">J</text>
<text x="862.2" y="762" font-size="25.8" fill="#0b0b0b">Rotate Button</text>
<circle cx="831.4" cy="803.5" r="21.4" fill="#F68237"/>
<text x="831.5" y="811.6" font-size="24.4" font-weight="700" fill="#fff" text-anchor="middle">K</text>
<text x="862.2" y="811.5" font-size="25.8" fill="#0b0b0b">Demo</text>
<circle cx="831.4" cy="854.36" r="21.4" fill="#F68237"/>
<text x="831.5" y="862.46" font-size="24.4" font-weight="700" fill="#fff" text-anchor="middle">L</text>
<text x="862.2" y="862.8" font-size="25.8" fill="#0b0b0b">Clock Set</text>
<circle cx="831.4" cy="905.22" r="21.4" fill="#F68237"/>
<text x="831.5" y="913.32" font-size="24.4" font-weight="700" fill="#fff" text-anchor="middle">M</text>
<text x="862.2" y="913.4" font-size="25.8" fill="#0b0b0b">Speed</text>
</svg>
</body></html>
